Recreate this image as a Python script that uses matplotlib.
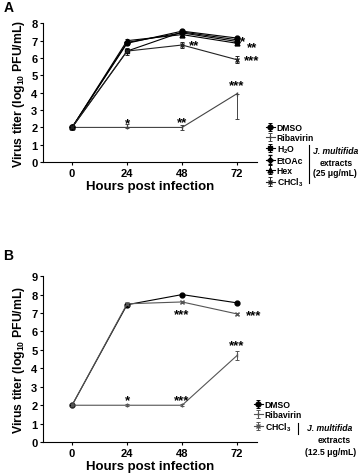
import matplotlib
matplotlib.use('Agg')
import matplotlib.pyplot as plt
from matplotlib.lines import Line2D

plt.rcParams['font.family'] = ['Liberation Sans', 'DejaVu Sans']
plt.rcParams['font.weight'] = 'bold'
plt.rcParams['axes.labelweight'] = 'bold'
plt.rcParams['mathtext.fontset'] = 'custom'
plt.rcParams['mathtext.rm'] = 'Liberation Sans:bold'
plt.rcParams['mathtext.it'] = 'Liberation Sans:bold:italic'
plt.rcParams['mathtext.bf'] = 'Liberation Sans:bold'
plt.rcParams['mathtext.default'] = 'regular'

narrow = ['Liberation Sans Narrow', 'Liberation Sans', 'DejaVu Sans']

hours = [0, 24, 48, 72]

# panel A (25 ug/mL)
a_dmso = [2, 6.85, 7.55, 7.15]
a_dmso_err = [0, 0.1, 0.05, 0.05]
a_riba = [2, 2, 2, 3.95]
a_riba_err_lo = [0, 0.05, 0.15, 1.45]
a_riba_err_hi = [0, 0.2, 0.15, 0]
a_h2o = [2, 6.4, 7.5, 7.05]
a_h2o_err = [0, 0.1, 0.05, 0.05]
a_etoac = [2, 6.9, 7.45, 6.95]
a_etoac_err = [0, 0.1, 0.05, 0.05]
a_hex = [2, 7.0, 7.35, 6.85]
a_hex_err = [0, 0.1, 0.1, 0.1]
a_chcl3 = [2, 6.4, 6.75, 5.9]
a_chcl3_err = [0, 0.2, 0.15, 0.2]

# panel B (12.5 ug/mL)
b_dmso = [2, 7.45, 8.0, 7.55]
b_dmso_err = [0, 0.05, 0.05, 0.05]
b_riba = [2, 2, 2, 4.7]
b_riba_err = [0, 0.05, 0.05, 0.25]
b_chcl3 = [2, 7.5, 7.6, 6.95]
b_chcl3_err = [0, 0.05, 0.05, 0.05]

fig = plt.figure(figsize=(3.58, 4.77), dpi=100)
axA = fig.add_axes([0.120, 0.658, 0.598, 0.291])
axB = fig.add_axes([0.120, 0.071, 0.598, 0.348])

kw = dict(lw=0.8, capsize=1.5, elinewidth=0.7, capthick=0.7, ms=3.5)

axA.errorbar(hours, a_dmso, yerr=a_dmso_err, fmt='-o', color='black', label='DMSO', **kw)
axA.errorbar(hours, a_riba, yerr=[a_riba_err_lo, a_riba_err_hi], fmt='-|', color='#444444',
             label='Ribavirin', **kw)
axA.errorbar(hours, a_h2o, yerr=a_h2o_err, fmt='-s', color='black', label='H$_2$O', **kw)
axA.errorbar(hours, a_etoac, yerr=a_etoac_err, fmt='-D', color='black', label='EtOAc',
             lw=0.8, capsize=1.5, elinewidth=0.7, ms=2.8)
axA.errorbar(hours, a_hex, yerr=a_hex_err, fmt='-^', color='black', label='Hex', **kw)
axA.errorbar(hours, a_chcl3, yerr=a_chcl3_err, fmt='-x', color='#222222', label='CHCl$_3$', **kw)

axB.errorbar(hours, b_dmso, yerr=b_dmso_err, fmt='-o', color='black', label='DMSO', **kw)
axB.errorbar(hours, b_riba, yerr=b_riba_err, fmt='-|', color='#555555', label='Ribavirin', **kw)
axB.errorbar(hours, b_chcl3, yerr=b_chcl3_err, fmt='-x', color='#555555', label='CHCl$_3$', **kw)

for ax, top in [(axA, 8), (axB, 9)]:
    ax.set_xlim(-12.7, 80.7)
    ax.set_ylim(0, top)
    ax.set_xticks(hours)
    ax.set_yticks(range(top + 1))
    ax.spines['top'].set_visible(False)
    ax.spines['right'].set_visible(False)
    ax.tick_params(labelsize=8, length=2, width=0.8, pad=2)
    ax.set_xlabel('Hours post infection', fontsize=9.5, labelpad=2)
    ax.set_ylabel('Virus titer (log$_{10}$ PFU/mL)', fontsize=8.8, labelpad=3)

# significance stars
st = dict(fontsize=9.5, ha='center', va='center')
axA.text(24, 2.25, '*', **st)
axA.text(48, 2.3, '**', **st)
axA.text(72, 4.45, '***', **st)
axA.text(53, 6.75, '**', **st)
axA.text(78.5, 5.85, '***', **st)
axA.text(74.5, 7.0, '*', **st)
axA.text(78.5, 6.62, '**', **st)

axB.text(24, 2.3, '*', **st)
axB.text(48, 2.3, '***', **st)
axB.text(72, 5.25, '***', **st)
axB.text(48, 6.95, '***', **st)
axB.text(79, 6.9, '***', **st)

lk = dict(frameon=False, handlelength=1.0, handletextpad=0.25,
          labelspacing=0.12, borderaxespad=0, borderpad=0,
          prop=dict(family=narrow, weight='bold', size=6.2))
fig.legend(*axA.get_legend_handles_labels(), loc='upper left',
           bbox_to_anchor=(266 / 358, 1 - 124 / 477), **lk)
fig.legend(*axB.get_legend_handles_labels(), loc='upper left',
           bbox_to_anchor=(254 / 358, 1 - 401 / 477), **lk)

# brackets for extracts
tk = dict(fontsize=6.2, family=narrow, ha='center', va='center')
fig.add_artist(Line2D([309 / 358, 309 / 358], [1 - 146 / 477, 1 - 184 / 477], color='black', lw=0.8))
fig.text(336 / 358, 1 - 152 / 477, 'J. multifida', style='italic', **tk)
fig.text(336 / 358, 1 - 163 / 477, 'extracts', **tk)
fig.text(335 / 358, 1 - 174 / 477, '(25 μg/mL)', **tk)

fig.add_artist(Line2D([298 / 358, 298 / 358], [1 - 424 / 477, 1 - 435 / 477], color='black', lw=0.8))
fig.text(330 / 358, 1 - 429 / 477, 'J. multifida', style='italic', **tk)
fig.text(334 / 358, 1 - 441 / 477, 'extracts', **tk)
tk['ha'] = 'right'
fig.text(356 / 358, 1 - 453 / 477, '(12.5 μg/mL)', **tk)

fig.text(0.01, 1 - 8 / 477, 'A', fontsize=10, fontweight='bold', ha='left', va='center')
fig.text(0.01, 1 - 256 / 477, 'B', fontsize=10, fontweight='bold', ha='left', va='center')

fig.savefig('out.png', dpi=100)
